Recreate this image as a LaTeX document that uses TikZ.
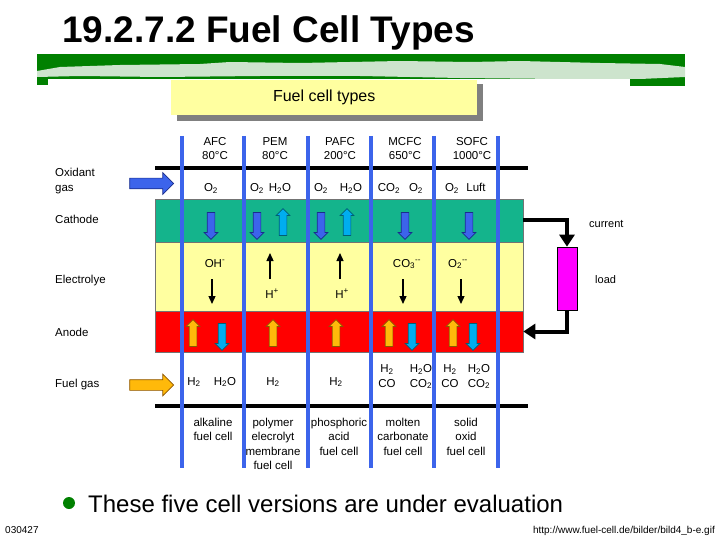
\documentclass[tikz,border=0pt]{standalone}
\usepackage{fontspec}
\setmainfont{Liberation Sans}
\usetikzlibrary{positioning,shapes,arrows.meta}

\definecolor{slidegreen}{RGB}{0,128,0}
\definecolor{streak}{RGB}{205,228,205}
\definecolor{boxyellow}{RGB}{255,255,160}
\definecolor{cathodegreen}{RGB}{20,180,140}
\definecolor{lineblue}{RGB}{60,100,235}
\definecolor{darkblue}{RGB}{25,45,140}
\definecolor{darkcyan}{RGB}{0,95,115}
\definecolor{gasorange}{RGB}{255,185,10}
\definecolor{darkorange}{RGB}{140,85,0}
\definecolor{loadpink}{RGB}{255,0,255}

\tikzset{
        >={Triangle[width=7pt,length=8pt]}, % heads of the thin ion arrows
        txt/.style={font=\fontsize{11.5}{14.5}\selectfont, inner sep=0pt, anchor=base, align=center},
        band/.style={draw=black!55, line width=0.6pt, minimum width=368pt, inner sep=0pt},
        blockarrow/.style={single arrow, single arrow head extend=3pt, minimum width=13pt,
                minimum height=27pt, inner sep=3.5pt, line width=0.7pt},
        bigarrow/.style={blockarrow, minimum height=44pt, minimum width=21pt,
                inner sep=5pt, single arrow head extend=5.5pt},
        oxygen/.style={blockarrow, fill=lineblue, draw=darkblue},
        water/.style={blockarrow, fill=cyan, draw=darkcyan},
        hydrogen/.style={blockarrow, fill=gasorange, draw=darkorange},
        pointdown/.style={shape border rotate=270},
        pointup/.style={shape border rotate=90},
        ion/.style={->, line width=1.3pt},
        wire/.style={line width=4pt, -{Triangle[width=15pt,length=12pt]}},
}

\begin{document}
\begin{tikzpicture}[x=1pt,y=-1pt]
\useasboundingbox (0,0) rectangle (720,540);

% title and green band
\node[anchor=base west, inner sep=0pt, font=\fontsize{37}{40}\selectfont\bfseries] (title) at (62,43) {19.2.7.2 Fuel Cell Types};
\fill[slidegreen] (37,54) rectangle (685,79);
\fill[slidegreen] (37,79) rectangle (48,85);
\fill[slidegreen] (630,78) rectangle (685,86);
\fill[streak] (37,71) -- (60,67) -- (120,65) -- (200,64) -- (230,62) -- (300,63) -- (400,61) -- (470,62)
        -- (520,61) -- (600,63) -- (660,64) -- (685,67) -- (685,77) -- (640,79) -- (560,79) -- (460,78)
        -- (360,76) -- (260,76) -- (160,77) -- (80,76) -- (37,77) -- cycle;

% box with the diagram title
\fill[gray] (177,84) rectangle (483,121);
\node[fill=boxyellow, anchor=north west, minimum width=306pt, minimum height=35pt, inner sep=0pt,
        font=\fontsize{16}{18}\selectfont] (boxtitle) at (171,80) {Fuel cell types};

% layers
\node[band, fill=cathodegreen, minimum height=43pt] (cathode) at (339,220.5) {};
\node[band, fill=boxyellow, minimum height=69pt] (electrolyte) at (339,276.5) {};
\node[band, fill=red, minimum height=41pt] (anode) at (339,331.5) {};

\draw[line width=4pt] (155,168) -- (528,168);
\draw[line width=4pt] (155,406) -- (528,406);
\foreach \x in {182,244,308,371,434,498}
        \draw[lineblue, line width=4.5pt] (\x,136) -- (\x,468);

% row labels
\node[txt, anchor=base west] (oxidant) at (55,177) {Oxidant};
\node[txt, anchor=base west] (oxidant2) at (55,192) {gas};
\node[txt, anchor=base west] (lcathode) at (55,224) {Cathode};
\node[txt, anchor=base west] (lelectrolyte) at (55,283) {Electrolye};
\node[txt, anchor=base west] (lanode) at (55,336) {Anode};
\node[txt, anchor=base west] (lfuel) at (55,387) {Fuel gas};

\node[bigarrow, fill=lineblue, draw=darkblue] (oxarrow) at (149,183.5) {};
\node[bigarrow, fill=gasorange, draw=darkorange] (fuelarrow) at (149,385) {};

% column heads (base = last line)
\node[txt] (hafc) at (215,160) {AFC\\80°C};
\node[txt] (hpem) at (275,160) {PEM\\80°C};
\node[txt] (hpafc) at (340,160) {PAFC\\200°C};
\node[txt] (hmcfc) at (405,160) {MCFC\\650°C};
\node[txt] (hsofc) at (472,160) {SOFC\\1000°C};

% oxidant row
\node[txt] (gafc) at (211,192) {O\textsubscript{2}};
\node[txt] (gpem1) at (257,192) {O\textsubscript{2}};
\node[txt] (gpem2) at (280,192) {H\textsubscript{2}O};
\node[txt] (gpafc1) at (321,192) {O\textsubscript{2}};
\node[txt] (gpafc2) at (351,192) {H\textsubscript{2}O};
\node[txt] (gmcfc1) at (389,192) {CO\textsubscript{2}};
\node[txt] (gmcfc2) at (416,192) {O\textsubscript{2}};
\node[txt] (gsofc1) at (452,192) {O\textsubscript{2}};
\node[txt] (gsofc2) at (476,192) {Luft};

% cathode arrows
\node[oxygen, pointdown] (cafc) at (211,224) {};
\node[oxygen, pointdown] (cpem1) at (257,224) {};
\node[water, pointup] (cpem2) at (283,224) {};
\node[oxygen, pointdown] (cpafc1) at (321,224) {};
\node[water, pointup] (cpafc2) at (347,224) {};
\node[oxygen, pointdown] (cmcfc) at (405,224) {};
\node[oxygen, pointdown] (csofc) at (469,224) {};

% ions in the electrolyte
\node[txt] (eafc) at (215,267) {OH\textsuperscript{-}};
\node[txt] (epem) at (272,298) {H\textsuperscript{+}};
\node[txt] (epafc) at (342,298) {H\textsuperscript{+}};
\node[txt] (emcfc) at (407,267) {CO\textsubscript{3}\textsuperscript{{-}{-}}};
\node[txt] (esofc) at (458,267) {O\textsubscript{2}\textsuperscript{{-}{-}}};
\coordinate (afcA) at (212,279);   \coordinate (afcB) at (212,304);
\coordinate (pemA) at (270,279);   \coordinate (pemB) at (270,253);
\coordinate (pafcA) at (340,279);  \coordinate (pafcB) at (340,253);
\coordinate (mcfcA) at (403,279);  \coordinate (mcfcB) at (403,304);
\coordinate (sofcA) at (461,279);  \coordinate (sofcB) at (461,304);
\draw[ion] (afcA) -- (afcB);
\draw[ion] (pemA) -- (pemB);
\draw[ion] (pafcA) -- (pafcB);
\draw[ion] (mcfcA) -- (mcfcB);
\draw[ion] (sofcA) -- (sofcB);

% anode arrows
\node[hydrogen, pointup] (aafc1) at (193,335) {};
\node[water, pointdown] (aafc2) at (222,335) {};
\node[hydrogen, pointup] (apem) at (273,335) {};
\node[hydrogen, pointup] (apafc) at (336,335) {};
\node[hydrogen, pointup] (amcfc1) at (389,335) {};
\node[water, pointdown] (amcfc2) at (412,335) {};
\node[hydrogen, pointup] (asofc1) at (453,335) {};
\node[water, pointdown] (asofc2) at (473,335) {};

% fuel gas row
\node[txt] (fafc1) at (194,385) {H\textsubscript{2}};
\node[txt] (fafc2) at (225,385) {H\textsubscript{2}O};
\node[txt] (fpem) at (273,385) {H\textsubscript{2}};
\node[txt] (fpafc) at (336,385) {H\textsubscript{2}};
\node[txt] (fmcfc1) at (387,387) {H\textsubscript{2}\\CO};
\node[txt] (fmcfc2) at (421,387) {H\textsubscript{2}O\\CO\textsubscript{2}};
\node[txt] (fsofc1) at (450,387) {H\textsubscript{2}\\CO};
\node[txt] (fsofc2) at (479,387) {H\textsubscript{2}O\\CO\textsubscript{2}};

% names of the cells
\node[txt] (nafc) at (213,440.5) {alkaline\\fuel cell};
\node[txt] (npem) at (273,469.5) {polymer\\elecrolyt\\membrane\\fuel cell};
\node[txt] (npafc) at (339,455) {phosphoric\\acid\\fuel cell};
\node[txt] (nmcfc) at (403,455) {molten\\carbonate\\fuel cell};
\node[txt] (nsofc) at (466,455) {solid\\oxid\\fuel cell};

% external circuit
\node[draw, line width=0.6pt, fill=loadpink, minimum width=20pt, minimum height=63pt, inner sep=0pt] (load) at (567,278.5) {};
\draw[wire] (cathode.east) -| (load.north);
\draw[wire] (load.south) |- (anode.east);
\node[txt, anchor=base west, font=\fontsize{11}{13}\selectfont] (lcurrent) at (589,228) {current};
\node[txt, anchor=base west, font=\fontsize{11}{13}\selectfont] (lload) at (595,283) {load};

% bullet and footer
\fill[slidegreen] (69,503) circle (6);
\node[anchor=base west, inner sep=0pt, font=\fontsize{24}{28}\selectfont] (bullet) at (88,512) {These five cell versions are under evaluation};
\node[anchor=base west, inner sep=0pt, font=\fontsize{10}{12}\selectfont] (date) at (5,533) {030427};
\node[anchor=base east, inner sep=0pt, font=\fontsize{10}{12}\selectfont] (source) at (715,533) {http://www.fuel-cell.de/bilder/bild4\_b-e.gif};
\end{tikzpicture}
\end{document}
